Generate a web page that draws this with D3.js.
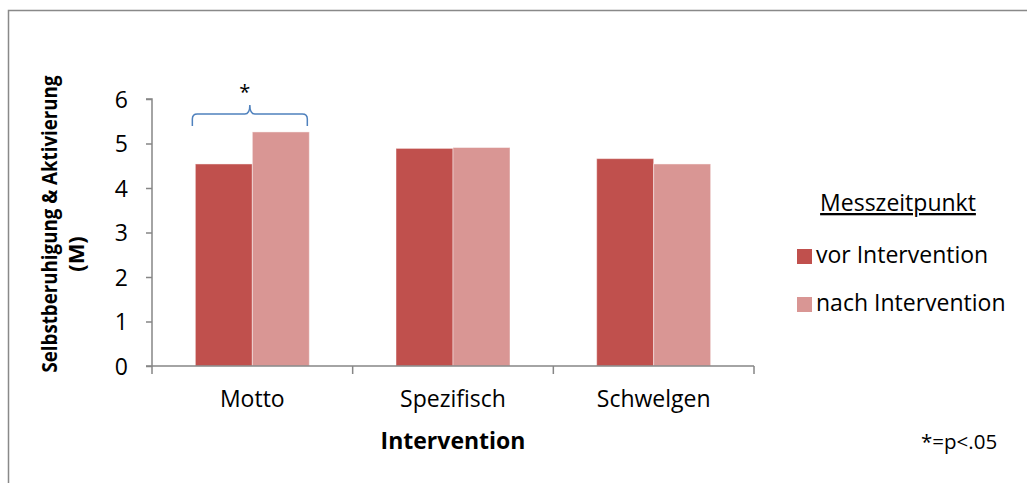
<!DOCTYPE html>
<html>
<head>
<meta charset="utf-8">
<script src="https://cdn.jsdelivr.net/npm/d3@7"></script>
<style>
  html, body { margin: 0; padding: 0; background: #fff; }
  svg { display: block; }
  text { font-family: "Open Sans", "Noto Sans", sans-serif; fill: #000; }
</style>
</head>
<body>
<svg id="chart" width="1027" height="483"></svg>
<script>
// Mean self-soothing & activation scores before / after each intervention
const categories = ["Motto", "Spezifisch", "Schwelgen"];
const seriesNames = ["vor Intervention", "nach Intervention"];
const vorValues = [4.54, 4.89, 4.66];
const nachValues = [5.26, 4.91, 4.54];
const yTicks = [0, 1, 2, 3, 4, 5, 6];
const significantGroups = ["Motto"];

const colors = { "vor Intervention": "#C0504D", "nach Intervention": "#D99694" };
const axisColor = "#868686";
const labelSize = 23;

const svg = d3.select("#chart");

// chart frame (right and bottom edges run past the visible area)
svg.append("rect")
  .attr("x", 8.5).attr("y", 10.5)
  .attr("width", 1040).attr("height", 500)
  .attr("fill", "#fff").attr("stroke", "#898989").attr("stroke-width", 1.5);

const plot = { left: 152, right: 754, top: 99, bottom: 366 };

const x = d3.scaleBand()
  .domain(categories)
  .range([plot.left, plot.right])
  .paddingInner(0.432)
  .paddingOuter(0.216);

const xInner = d3.scaleBand()
  .domain(seriesNames)
  .range([0, x.bandwidth()]);

const y = d3.scaleLinear()
  .domain([0, 6])
  .range([plot.bottom, plot.top]);

const rows = categories.map((c, i) => ({
  category: c,
  values: [
    { series: seriesNames[0], value: vorValues[i] },
    { series: seriesNames[1], value: nachValues[i] }
  ]
}));

// bars
const groups = svg.append("g").selectAll("g")
  .data(rows).join("g")
  .attr("transform", d => `translate(${x(d.category)},0)`);

groups.selectAll("rect")
  .data(d => d.values).join("rect")
  .attr("x", d => xInner(d.series))
  .attr("y", d => y(d.value))
  .attr("width", xInner.bandwidth())
  .attr("height", d => y(0) - y(d.value))
  .attr("fill", d => colors[d.series])
  .attr("stroke", "#fff")
  .attr("stroke-opacity", 0.45)
  .attr("stroke-width", 1);

// y axis
const yAxis = d3.axisLeft(y).tickValues(yTicks).tickSize(6).tickPadding(18)
  .tickFormat(d3.format("d"));
const gy = svg.append("g").attr("transform", `translate(${plot.left},0)`).call(yAxis);
gy.select(".domain").attr("stroke", axisColor).attr("stroke-width", 1.5)
  .attr("d", `M-6,${plot.top}H0V${plot.bottom}H-6`);
gy.selectAll(".tick line").attr("stroke", axisColor).attr("stroke-width", 1.5);
gy.selectAll(".tick text")
  .style("font-family", "'Open Sans', sans-serif")
  .attr("font-size", labelSize).attr("fill", "#000").attr("dy", "0.36em");

// x axis with ticks at the category boundaries
const gx = svg.append("g");
gx.append("line")
  .attr("x1", plot.left).attr("x2", plot.right)
  .attr("y1", plot.bottom).attr("y2", plot.bottom)
  .attr("stroke", axisColor).attr("stroke-width", 1.5);
gx.selectAll("line.bt")
  .data(d3.range(categories.length + 1)).join("line")
  .attr("class", "bt")
  .attr("x1", i => plot.left + i * x.step()).attr("x2", i => plot.left + i * x.step())
  .attr("y1", plot.bottom).attr("y2", plot.bottom + 8)
  .attr("stroke", axisColor).attr("stroke-width", 1.5);
gx.selectAll("text")
  .data(categories).join("text")
  .attr("x", d => x(d) + x.bandwidth() / 2)
  .attr("y", 407)
  .attr("text-anchor", "middle")
  .attr("font-size", labelSize)
  .text(d => d);

// axis titles
svg.append("text")
  .attr("x", (plot.left + plot.right) / 2).attr("y", 449)
  .attr("text-anchor", "middle")
  .attr("font-size", labelSize).attr("font-weight", "bold")
  .text("Intervention");

svg.append("text")
  .attr("text-anchor", "middle")
  .attr("font-size", 22).attr("font-weight", "bold")
  .attr("textLength", 297).attr("lengthAdjust", "spacingAndGlyphs")
  .attr("transform", "translate(57,224) rotate(-90)")
  .text("Selbstberuhigung & Aktivierung");
svg.append("text")
  .attr("text-anchor", "middle")
  .attr("font-size", 22).attr("font-weight", "bold")
  .attr("transform", "translate(84,254) rotate(-90)")
  .text("(M)");

// significance brace over the Motto group
significantGroups.forEach(cat => {
  const i = categories.indexOf(cat);
  const x0 = x(cat) - 3;
  const x1 = x(cat) + x.bandwidth() - 2;
  const xm = (x0 + x1) / 2;
  const top = y(Math.max(vorValues[i], nachValues[i]));
  const yb = top - 6;      // ends of the brace
  const yl = top - 18;     // horizontal arms
  const yt = top - 27;     // centre tip
  const r = 5;
  const p = d3.path();
  p.moveTo(x0, yb);
  p.lineTo(x0, yl + r);
  p.quadraticCurveTo(x0, yl, x0 + r, yl);
  p.lineTo(xm - r, yl);
  p.quadraticCurveTo(xm, yl, xm, yt);
  p.quadraticCurveTo(xm, yl, xm + r, yl);
  p.lineTo(x1 - r, yl);
  p.quadraticCurveTo(x1, yl, x1, yl + r);
  p.lineTo(x1, yb);
  svg.append("path").attr("d", p.toString())
    .attr("fill", "none").attr("stroke", "#4F81BD").attr("stroke-width", 1.5);
  svg.append("text")
    .attr("x", xm - 5).attr("y", yt - 6)
    .attr("text-anchor", "middle")
    .attr("font-size", 20)
    .text("*");
});

// legend
const legend = svg.append("g");
legend.append("text")
  .attr("x", 898).attr("y", 211)
  .attr("text-anchor", "middle")
  .attr("font-size", labelSize)
  .attr("text-decoration", "underline")
  .text("Messzeitpunkt");
const items = legend.selectAll("g.item")
  .data(seriesNames).join("g")
  .attr("class", "item")
  .attr("transform", (d, i) => `translate(797,${249 + i * 48})`);
items.append("rect")
  .attr("width", 15).attr("height", 15)
  .attr("fill", d => colors[d]);
items.append("text")
  .attr("x", 19).attr("y", 14)
  .attr("font-size", labelSize)
  .text(d => d);

svg.append("text")
  .attr("x", 921).attr("y", 449)
  .attr("font-size", 20.5)
  .text("*=p<.05");
</script>
</body>
</html>
